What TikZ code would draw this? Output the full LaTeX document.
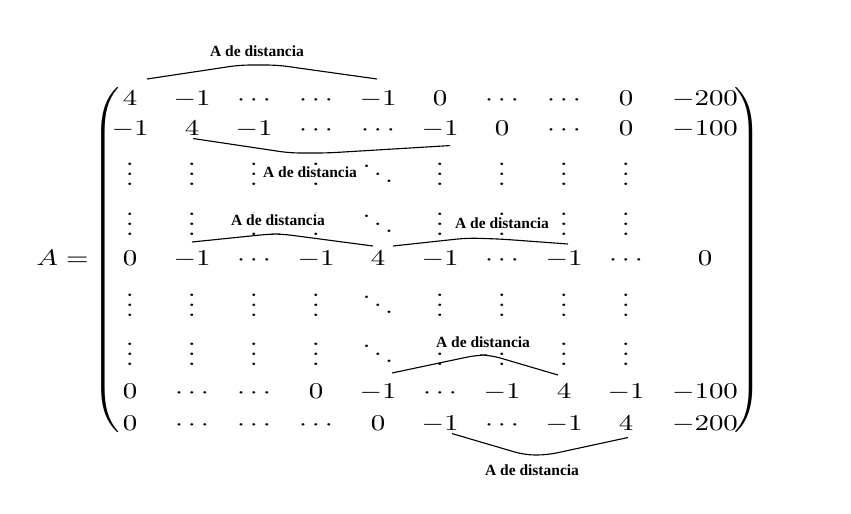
\documentclass[tikz,border=0pt]{standalone}
\usepackage{fontspec}
\usepackage{graphicx}
\newfontfamily\labfont{Liberation Serif}
\usetikzlibrary{positioning}
% wide math, as in the picture
\newcommand\mx[1]{\scalebox{1.25}[1]{$#1$}}
\tikzset {
  % matrix entry
  ent/.style = {
    inner sep = 0pt,
    anchor = base,
    font = \fontsize{9}{11}\selectfont
  },
  % label over or under an arc
  dist/.style = {
    font = \labfont\bfseries\fontsize{6.2}{7}\selectfont,
    fill = white,
    inner sep = 0.6pt
  },
  % arc over a run of entries
  hump/.style = {
    draw = black,
    line width = 0.45pt,
    rounded corners = 4pt
  }
}

\begin{document}
\begin{tikzpicture}[x=0.4pt, y=-0.4pt]
    \useasboundingbox (0,0) rectangle (851,513);

    \node[ent, anchor=base west] (lhs) at (36,265) {\mx{A={}}};

    % entries, row by row
    \foreach \row [count=\r] in {
        {4,-1,\cdots,\cdots,-1,0,\cdots,\cdots,0,-200},
        {-1,4,-1,\cdots,\cdots,-1,0,\cdots,0,-100},
        {\vdots,\vdots,\vdots,\vdots,\ddots,\vdots,\vdots,\vdots,\vdots},
        {\vdots,\vdots,\vdots,\vdots,\ddots,\vdots,\vdots,\vdots,\vdots},
        {0,-1,\cdots,-1,4,-1,\cdots,-1,\cdots,0},
        {\vdots,\vdots,\vdots,\vdots,\ddots,\vdots,\vdots,\vdots,\vdots},
        {\vdots,\vdots,\vdots,\vdots,\ddots,\vdots,\vdots,\vdots,\vdots},
        {0,\cdots,\cdots,0,-1,\cdots,-1,4,-1,-100},
        {0,\cdots,\cdots,\cdots,0,-1,\cdots,-1,4,-200}} {
      \pgfmathsetmacro\yb{{105,135,185,235,265,316,365,398,430}[\r-1]}
      \foreach \val [count=\c] in \row {
        \pgfmathsetmacro\xc{\c<10 ? 68+62*\c : 705}
        \node[ent] (m-\r-\c) at (\xc,\yb) {\mx{\val}};
      }
    }

    % brackets
    \node[ent, anchor=center] (lpar) at (108,262)
      {\mx{\left(\vrule height 68pt depth 68pt width 0pt\right.}};
    \node[ent, anchor=center] (rpar) at (746,262)
      {\mx{\left.\vrule height 68pt depth 68pt width 0pt\right)}};

    % labels
    \node[dist] (lab top) at (257,51) {A de distancia};
    \node[dist] (lab row2) at (310,172) {A de distancia};
    \node[dist] (lab left) at (278,220) {A de distancia};
    \node[dist] (lab right) at (502,223) {A de distancia};
    \node[dist] (lab row8) at (483,342) {A de distancia};
    \node[dist] (lab bottom) at (532,470) {A de distancia};

    % arcs
    \draw[hump] ([shift={(17,-11)}]m-1-1.north)
      -- (240,65) -- (277,65)
      -- ([shift={(-1,-11)}]m-1-5.north);

    \draw[hump] ([shift={(1,3)}]m-2-2.south)
      -- (290,153) -- (327,153)
      -- ([shift={(10,8)}]m-2-6.south);

    \draw[hump] ([shift={(0,-8)}]m-5-2.north)
      -- (270,234) -- (282,234)
      -- ([shift={(-5,-4)}]m-5-5.north);

    \draw[hump] ([shift={(15,-4)}]m-5-5.north)
      -- (467,238) -- (500,239)
      -- ([shift={(4,-6)}]m-5-8.north);

    \draw[hump] ([shift={(14,-10)}]m-8-5.north)
      -- (477,355) -- (490,355)
      -- ([shift={(-6,-8)}]m-8-8.north);

    \draw[hump] ([shift={(12,1)}]m-9-6.south)
      -- (525,455) -- (547,455)
      -- ([shift={(2,7)}]m-9-9.south);
\end{tikzpicture}
\end{document}
